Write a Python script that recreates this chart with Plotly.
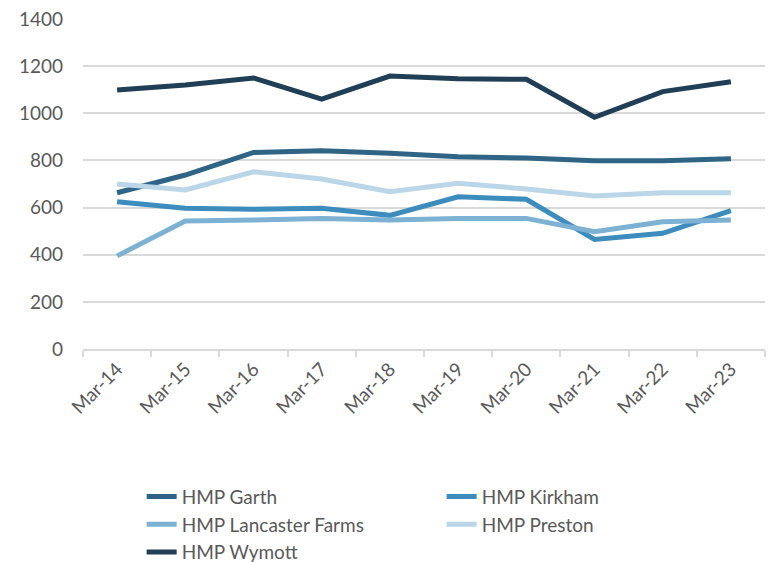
import plotly.graph_objects as go

categories = ["Mar-14", "Mar-15", "Mar-16", "Mar-17", "Mar-18", "Mar-19", "Mar-20", "Mar-21", "Mar-22", "Mar-23"]
garth = [663, 738, 834, 841, 830, 816, 810, 799, 799, 807]
kirkham = [625, 597, 593, 597, 567, 646, 635, 465, 491, 587]
lancaster = [395, 543, 547, 554, 547, 554, 554, 498, 540, 547]
preston = [700, 675, 752, 721, 667, 703, 679, 649, 663, 663]
wymott = [1099, 1120, 1150, 1060, 1158, 1147, 1144, 983, 1092, 1134]

series_names = ["HMP Garth", "HMP Kirkham", "HMP Lancaster Farms", "HMP Preston", "HMP Wymott"]
series_values = [garth, kirkham, lancaster, preston, wymott]
series_colors = ["#2F6487", "#3D8CBE", "#7DB1D4", "#BAD6E8", "#203F56"]

fig = go.Figure()
for name, vals, col in zip(series_names, series_values, series_colors):
    fig.add_trace(go.Scatter(x=categories, y=vals, name=name, mode="lines",
                             line=dict(color=col, width=5)))

font_family = "Lato, 'Open Sans', sans-serif"
fig.update_layout(
    width=774, height=562,
    margin=dict(l=83, r=9, t=19, b=213, autoexpand=False),
    plot_bgcolor="white", paper_bgcolor="white",
    font=dict(family=font_family, size=19, color="#595959"),
    showlegend=True,
    legend=dict(orientation="h", x=0.086, xanchor="left", y=-0.39, yanchor="top",
                entrywidth=255, entrywidthmode="pixels",
                font=dict(size=19, color="#595959"), tracegroupgap=0),
    xaxis=dict(type="category", range=[-0.5, 9.5], tickson="boundaries", ticks="outside", ticklen=6,
               tickcolor="#D9D9D9", tickwidth=1.5, showline=True, linecolor="#D9D9D9",
               linewidth=1.5, showgrid=False, tickangle=-45, automargin=False,
               tickfont=dict(size=19, color="#595959")),
    yaxis=dict(range=[0, 1400], tickvals=[0, 200, 400, 600, 800, 1000, 1200, 1400],
               showgrid=True, gridcolor="#D9D9D9", gridwidth=1.5, zeroline=False,
               showline=False, ticks="", automargin=False, ticklabelstandoff=19,
               tickfont=dict(size=19, color="#595959")),
)

fig.write_html("out.html", config={"displayModeBar": False},
               post_script="document.body.style.margin='0';")
